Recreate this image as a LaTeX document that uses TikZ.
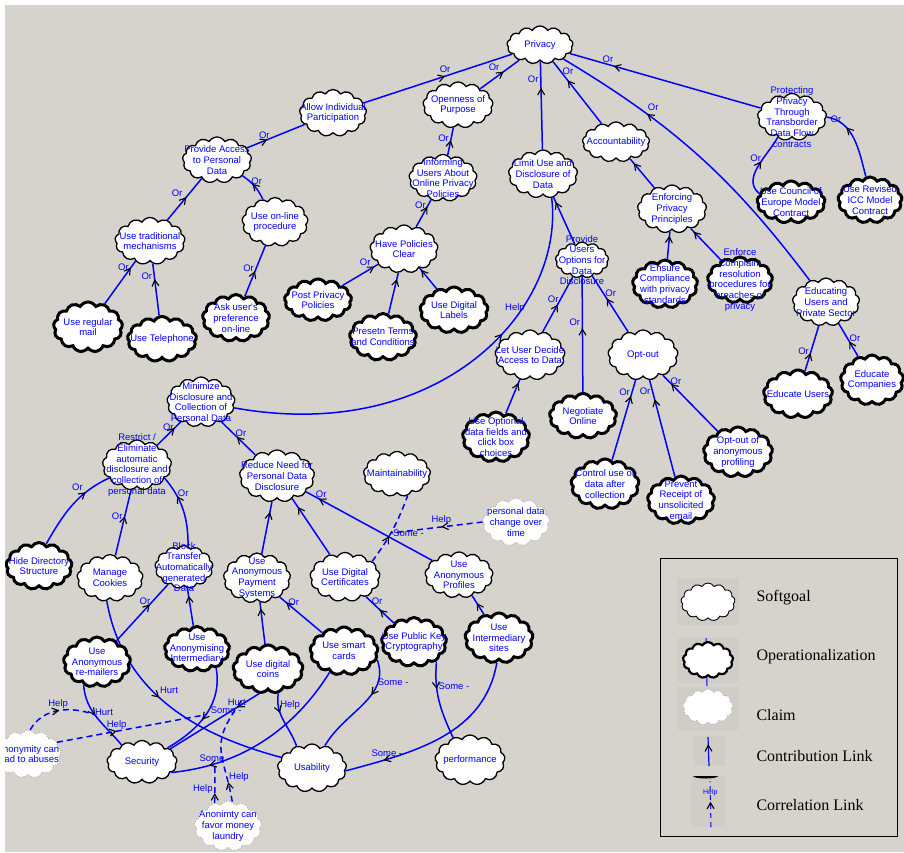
\documentclass[tikz,border=0pt]{standalone}
\usepackage{fontspec}
\setmainfont{Liberation Serif}
\newfontfamily\goalfont{Liberation Sans}
\usetikzlibrary{shapes.symbols, arrows.meta, decorations.markings}
\definecolor{panel}{RGB}{214,211,204}
\definecolor{iconbg}{RGB}{208,205,198}
\definecolor{linkblue}{RGB}{0,0,255}
\pgfdeclarelayer{bg}
\pgfdeclarelayer{links}
\pgfsetlayers{bg,links,main}

\begin{document}
\begin{tikzpicture}[x=1pt, y=1pt,
    soft/.style={cloud, cloud puffs=13, cloud puff arc=120, cloud ignores aspect,
                 draw=black, line width=1.3pt, fill=white,
                 minimum width=68pt, minimum height=47pt, inner sep=0pt},
    oper/.style={soft, line width=3pt},
    claim/.style={soft, draw=gray!60, line width=0.8pt, dash pattern=on 1.2pt off 1.2pt},
    txt/.style={font=\goalfont\fontsize{9.5}{10.7}\selectfont, text=linkblue, align=center, inner sep=0pt},
    lbl/.style={font=\goalfont\fontsize{9.5}{10.7}\selectfont, text=linkblue, inner sep=1.5pt},
    headat/.style={postaction={decorate}, decoration={markings, mark=at position #1 with
                 {\arrow{Straight Barb[color=black, length=6pt, width=7pt, line width=1.1pt]}}}},
    orlink/.style={draw=linkblue, line width=1.5pt, headat=#1},
    helplink/.style={orlink=#1, dash pattern=on 6pt off 4pt},
    keytext/.style={anchor=west, font=\fontsize{16}{18}\selectfont}
]
\useasboundingbox (0,0) rectangle (904,-852);
\begin{pgfonlayer}{bg}
  \fill[panel] (0,0) rectangle (904,-852);
\end{pgfonlayer}

% goals along the top
\node[soft, minimum width=66pt, minimum height=38pt, label={[txt]center:Privacy}] (privacy) at (540,-45) {};
\node[soft, minimum width=67pt, label={[txt]center:{Allow Individual\\Participation}}] (allow) at (333,-113) {};
\node[soft, minimum width=70pt, minimum height=46pt, label={[txt]center:{Openness of\\Purpose}}] (openness) at (458,-105) {};
\node[soft, label={[txt]center:{Informing\\Users About\\Online Privacy\\Policies}}] (informing) at (443,-178) {};
\node[soft, minimum width=69pt, minimum height=48pt, label={[txt]center:{Limit Use and\\Disclosure of\\Data}}] (limit) at (543,-174) {};
\node[soft, minimum width=67pt, minimum height=40pt, label={[txt]center:Accountability}] (account) at (616,-142) {};
\node[soft, minimum width=69pt, label={[txt]center:{Protecting\\Privacy\\Through\\Transborder\\Data Flow\\contracts}}] (protect) at (792,-117) {};
\node[soft, minimum width=69pt, minimum height=46pt, label={[txt]center:{Provide Access\\to Personal\\Data}}] (access) at (217,-160) {};
\node[soft, minimum width=70pt, label={[txt]center:{Use traditional\\mechanisms}}] (tradition) at (150,-241) {};
\node[soft, minimum width=66pt, minimum height=49pt, label={[txt]center:{Use on-line\\procedure}}] (online) at (275,-222) {};
\node[soft, minimum height=48pt, label={[txt]center:{Have Policies\\Clear}}] (policies) at (404,-249) {};
\node[soft, minimum width=69pt, minimum height=48pt, label={[txt]center:{Enforcing\\Privacy\\Principles}}] (enforcing) at (672,-209) {};
\node[oper, minimum height=42pt, label={[txt]center:{Use Council of\\Europe Model\\Contract}}] (council) at (791,-202) {};
\node[oper, minimum width=64pt, minimum height=46pt, label={[txt]center:{Use Revised\\ICC Model\\Contract}}] (icc) at (870,-200) {};

% middle band
\node[soft, minimum width=53pt, minimum height=36pt, label={[txt]center:{Provide\\Users\\Options for\\Data\\Disclosure}}] (options) at (582,-260) {};
\node[oper, minimum width=65pt, minimum height=48pt, label={[txt]center:{Ensure\\Compliance\\with privacy\\standards}}] (ensure) at (665,-284) {};
\node[oper, minimum width=65pt, minimum height=46pt, label={[txt]center:{Enforce\\Complaint\\resolution\\procedures for\\breaches of\\privacy}}] (complaint) at (740,-280) {};
\node[soft, minimum width=67pt, minimum height=48pt, label={[txt]center:{Educating\\Users and\\Private Sector}}] (educating) at (826,-302) {};
\node[oper, minimum width=69pt, minimum height=50pt, label={[txt]center:{Use regular\\mail}}] (mail) at (88,-327) {};
\node[oper, minimum width=69pt, minimum height=45pt, label={[txt]center:Use Telephone}] (phone) at (162,-339) {};
\node[oper, minimum width=67pt, label={[txt]center:{Ask user's\\preference\\on-line}}] (askuser) at (236,-318) {};
\node[oper, minimum width=67pt, minimum height=42pt, label={[txt]center:{Post Privacy\\Policies}}] (post) at (318,-300) {};
\node[oper, minimum width=67pt, label={[txt]center:{Presetn Terms\\and Conditions}}] (terms) at (383,-337) {};
\node[oper, minimum height=46pt, label={[txt]center:{Use Digital\\Labels}}] (labels) at (454,-310) {};
\node[soft, minimum width=70pt, minimum height=50pt, label={[txt]center:{Let User Decide\\Access to Data}}] (letuser) at (530,-355) {};
\node[oper, minimum width=67pt, minimum height=45pt, label={[txt]center:{Negotiate\\Online}}] (negotiate) at (583,-416) {};
\node[soft, minimum width=70pt, minimum height=50pt, label={[txt]center:Opt-out}] (optout) at (643,-355) {};
\node[oper, minimum width=67pt, minimum height=50pt, label={[txt]center:{Use Optional\\data fields and\\click box\\choices}}] (optional) at (496,-437) {};
\node[oper, minimum height=50pt, label={[txt]center:{Control use of\\data after\\collection}}] (control) at (605,-484) {};
\node[oper, minimum width=67pt, minimum height=48pt, label={[txt]center:{Prevent\\Receipt of\\unsolicited\\email}}] (prevent) at (681,-500) {};
\node[oper, minimum width=69pt, minimum height=50pt, label={[txt]center:{Opt-out of\\anonymous\\profiling}}] (profiling) at (738,-452) {};
\node[oper, minimum width=69pt, minimum height=48pt, label={[txt]center:Educate Users}] (eduusers) at (798,-394) {};
\node[oper, minimum width=63pt, minimum height=50pt, label={[txt]center:{Educate\\Companies}}] (educomp) at (872,-380) {};

% lower half
\node[soft, minimum height=50pt, label={[txt]center:{Minimize\\Disclosure and\\Collection of\\Personal Data}}] (minimize) at (201,-402) {};
\node[soft, minimum width=69pt, minimum height=50pt, label={[txt]center:{Restrict /\\Eliminate\\automatic\\disclosure and\\collection of\\personal data}}] (restrict) at (137,-465) {};
\node[soft, minimum width=75pt, minimum height=52pt, label={[txt]center:{Reduce Need for\\Personal Data\\Disclosure}}] (reduce) at (277,-476) {};
\node[soft, minimum width=67pt, minimum height=45pt, label={[txt]center:Maintainability}] (maintain) at (397,-474) {};
\node[claim, minimum width=67pt, minimum height=48pt, label={[txt]center:{personal data\\change over\\time}}] (pchange) at (516,-522) {};
\node[oper, minimum width=66pt, label={[txt]center:{Hide Directory\\Structure}}] (hidedir) at (39,-566) {};
\node[soft, minimum width=66pt, label={[txt]center:{Manage\\Cookies}}] (cookies) at (110,-578) {};
\node[soft, minimum width=58pt, minimum height=43pt, label={[txt]center:{Block\\Transfer\\Automatically\\generated\\Data}}] (block) at (184,-567) {};
\node[soft, minimum width=67pt, minimum height=50pt, label={[txt]center:{Use\\Anonymous\\Payment\\Systems}}] (payment) at (257,-578) {};
\node[soft, minimum width=70pt, minimum height=49pt, label={[txt]center:{Use Digital\\Certificates}}] (certs) at (345,-577) {};
\node[soft, minimum height=46pt, label={[txt]center:{Use\\Anonymous\\Profiles}}] (profiles) at (459,-575) {};
\node[oper, minimum width=67pt, minimum height=50pt, label={[txt]center:{Use\\Anonymous\\re-mailers}}] (remailers) at (97,-662) {};
\node[oper, minimum width=65pt, minimum height=45pt, label={[txt]center:{Use\\Anonymising\\Intermediary}}] (anonint) at (197,-649) {};
\node[oper, minimum width=70pt, minimum height=48pt, label={[txt]center:{Use digital\\coins}}] (coins) at (268,-669) {};
\node[oper, minimum height=48pt, label={[txt]center:{Use smart\\cards}}] (smart) at (344,-651) {};
\node[oper, minimum width=65pt, minimum height=49pt, label={[txt]center:{Use Public Key\\Cryptography}}] (pubkey) at (414,-642) {};
\node[oper, minimum height=50pt, label={[txt]center:{Use\\Intermediary\\sites}}] (intersites) at (499,-638) {};
\node[claim, minimum width=66pt, minimum height=48pt, label={[txt]center:{Anonymity can\\lead to abuses}}] (abuses) at (28,-754) {};
\node[soft, minimum width=70pt, minimum height=43pt, label={[txt]center:Security}] (security) at (142,-762) {};
\node[soft, minimum width=69pt, minimum height=48pt, label={[txt]center:Usability}] (usability) at (312,-768) {};
\node[soft, minimum width=70pt, minimum height=50pt, label={[txt]center:performance}] (perf) at (470,-760) {};
\node[claim, minimum width=67pt, minimum height=50pt, label={[txt]center:{Anonimty can\\favor money\\laundry}}] (laundry) at (228,-826) {};

\begin{pgfonlayer}{links}
% contributions towards Privacy
\draw[orlink=0.55] (allow) -- node[lbl, pos=0.55, above=1pt]{Or} (privacy);
\draw[orlink=0.6] (openness) -- node[lbl, pos=0.55, above left=0pt]{Or} (privacy);
\draw[orlink=0.7] (limit) -- node[lbl, pos=0.8, left]{Or} (privacy);
\draw[orlink=0.7] (account) -- node[lbl, pos=0.85, right]{Or} (privacy);
\draw[orlink=0.77] (protect) -- node[lbl, pos=0.8, above]{Or} (privacy);
\draw[orlink=0.7] (educating) to[bend right=11] node[lbl, pos=0.72, above right=0pt]{Or} (privacy);
\draw[orlink=0.35] (access) -- node[lbl, pos=0.3, above]{Or} (allow);
\draw[orlink=0.55] (informing) -- node[lbl, pos=0.6, left]{Or} (openness);
\draw[orlink=0.75] (policies) -- node[lbl, pos=0.8, left]{Or} (informing);
\draw[orlink=0.9] (options) -- (limit);
\draw[orlink=0.66] (minimize.-10) .. controls (440,-445) and (565,-310) .. (limit.-70) node[lbl, pos=0.64, above=4pt]{Help};
\draw[orlink=0.55] (tradition) -- node[lbl, pos=0.5, above left=0pt]{Or} (access);
\draw[orlink=0.6] (online) to[bend right=15] node[lbl, pos=0.75, right]{Or} (access);
\draw[orlink=0.85] (mail) -- node[lbl, pos=0.85, left]{Or} (tradition);
\draw[orlink=0.7] (phone) -- node[lbl, pos=0.75, left]{Or} (tradition);
\draw[orlink=0.5] (askuser) -- node[lbl, pos=0.55, left]{Or} (online);
\draw[orlink=0.9] (post) -- node[lbl, pos=0.85, above left=0pt]{Or} (policies);
\draw[orlink=0.85] (terms) -- (policies);
\draw[orlink=0.9] (labels) -- (policies);
\draw[orlink=0.5] (letuser) -- node[lbl, pos=0.6, left]{Or} (options);
\draw[orlink=0.55] (negotiate) -- node[lbl, pos=0.6, left]{Or} (options);
\draw[orlink=0.6] (optout) -- node[lbl, pos=0.7, right]{Or} (options);
\draw[orlink=0.9] (optional) -- (letuser);
\draw[orlink=0.8] (control) -- node[lbl, pos=0.85, left]{Or} (optout);
\draw[orlink=0.8] (prevent) -- node[lbl, pos=0.88, left]{Or} (optout);
\draw[orlink=0.85] (profiling) -- node[lbl, pos=0.9, right]{Or} (optout);
\draw[orlink=0.85] (enforcing) -- (account);
\draw[orlink=0.85] (ensure) -- (enforcing);
\draw[orlink=0.9] (complaint) -- (enforcing);
\draw[orlink=0.55] (council.165) to[out=140, in=240] node[lbl, pos=0.65, left]{Or} (protect.235);
\draw[orlink=0.7] (icc.100) to[out=105, in=-10] node[lbl, pos=0.75, above left=0pt]{Or} (protect.east);
\draw[orlink=0.4] (eduusers) -- node[lbl, pos=0.45, left]{Or} (educating);
\draw[orlink=0.45] (educomp) -- node[lbl, pos=0.55, right]{Or} (educating);
% lower tree
\draw[orlink=0.75] (restrict) -- node[lbl, pos=0.8, left]{Or} (minimize);
\draw[orlink=0.55] (reduce) -- node[lbl, pos=0.65, right]{Or} (minimize);
\draw[orlink=0.7] (hidedir.72) to[out=60, in=205] node[lbl, pos=0.7, above left=0pt]{Or} (restrict.205);
\draw[orlink=0.6] (cookies) -- node[lbl, pos=0.6, left]{Or} (restrict);
\draw[orlink=0.7] (block.79) to[out=90, in=-50] node[lbl, pos=0.75, right]{Or} (restrict.-25);
\draw[orlink=0.8] (payment) -- (reduce);
\draw[orlink=0.85] (certs) -- (reduce);
\draw[orlink=0.9] (profiles) -- node[lbl, pos=0.88, above]{Or} (reduce);
\draw[orlink=0.65] (remailers) -- node[lbl, pos=0.7, left]{Or} (block);
\draw[orlink=0.8] (anonint) -- (block);
\draw[orlink=0.85] (coins) -- (payment);
\draw[orlink=0.85] (smart) -- node[lbl, pos=0.85, right]{Or} (payment);
\draw[orlink=0.5] (pubkey) -- node[lbl, pos=0.6, above]{Or} (certs);
\draw[orlink=0.6] (intersites) -- (profiles);
% side effects and claims
\draw[helplink=0.4] (certs.30) to[bend right=8] coordinate[pos=0.45] (cm) node[lbl, pos=0.45, right]{Some -} (maintain.-64);
\draw[helplink=0.45] (pchange.west) -- node[lbl, pos=0.45, above]{Help} (cm);
\draw[orlink=0.45] (remailers.-120) to[out=-85, in=130] coordinate[pos=0.45] (hurta) node[lbl, pos=0.4, right]{Hurt} (security.140);
\draw[helplink=0.5] (abuses.85) to[out=60, in=160] node[lbl, pos=0.5, above]{Help} (hurta);
\draw[orlink=0.55] (anonint.-45) to[out=-80, in=30] coordinate[pos=0.5] (somea) node[lbl, pos=0.45, right]{Some -} (security.29);
\draw[helplink=0.4] (abuses.22) -- node[lbl, pos=0.4, above]{Help} (somea);
\draw[orlink=0.45] (cookies.-98) to[out=-80, in=165] node[lbl, pos=0.45, above right=0pt]{Hurt} (usability.161);
\draw[orlink=0.25] (coins.-110) -- coordinate[pos=0.25] (hurtb) node[lbl, pos=0.25, above]{Hurt} (security.25);
\draw[orlink=0.35] (coins.-67) to[out=-100, in=110] node[lbl, pos=0.2, right]{Help} (usability.125);
\draw[orlink=0.8] (smart.-124) .. controls (300,-720) and (250,-765) .. (security.-20) coordinate[pos=0.8] (someb) node[lbl, pos=0.8, above]{Some -};
\draw[helplink=0.25] (laundry.120) -- node[lbl, pos=0.35, left]{Help} (someb);
\draw[helplink=0.2] (laundry.80) to[out=100, in=-125, looseness=1.3] node[lbl, pos=0.2, right]{Help} (hurtb);
\draw[orlink=0.35] (smart.-15) to[out=-70, in=60] node[lbl, pos=0.3, above right=0pt]{Some -} (usability.60);
\draw[orlink=0.8] (intersites.-95) to[out=-100, in=15] node[lbl, pos=0.8, above]{Some -} (usability.-5);
\draw[orlink=0.35] (pubkey.-41) to[out=-95, in=115] node[lbl, pos=0.3, right]{Some -} (perf.127);
\end{pgfonlayer}

% key
\draw[line width=0.8pt] (660,-558) rectangle (897,-836);
\fill[iconbg] (677,-578) rectangle (739,-625);
\node[soft, minimum width=54pt, minimum height=38pt, line width=0.9pt] (keysoft) at (708,-602) {};
\node[keytext] (keysofttext) at (753,-598) {Softgoal};
\fill[iconbg] (677,-638) rectangle (739,-683);
\coordinate (keyopa) at (706,-638);
\coordinate (keyopb) at (707,-686);
\draw[linkblue, line width=1pt] (keyopa) -- (keyopb);
\node[oper, minimum width=50pt, minimum height=36pt, line width=2.2pt] (keyoper) at (708,-660) {};
\node[keytext] (keyopertext) at (753,-657) {Operationalization};
\fill[iconbg] (677,-687) rectangle (739,-730);
\node[claim, minimum width=50pt, minimum height=36pt] (keyclaim) at (708,-707) {};
\node[keytext] (keyclaimtext) at (753,-715) {Claim};
\fill[iconbg] (694,-736) rectangle (725,-766);
\coordinate (keyctba) at (709,-766);
\coordinate (keyctbb) at (708,-737);
\draw[orlink=0.75, line width=1.2pt] (keyctba) -- (keyctbb);
\node[keytext] (keyctbtext) at (753,-756) {Contribution Link};
\fill[iconbg] (691,-776) rectangle (726,-827);
\fill[black] (693,-776) -- (718,-776) arc[start angle=0, end angle=-180, x radius=12.5pt, y radius=2.5pt] -- cycle;
\coordinate (keycora) at (711,-827);
\coordinate (keycorb) at (710,-781);
\draw[helplink=0.55, line width=1pt, dash pattern=on 5pt off 4pt] (keycora) -- node[lbl, pos=0.75, font=\goalfont\fontsize{7}{8}\selectfont, inner sep=0pt]{Help} (keycorb);
\node[keytext] (keycortext) at (753,-805) {Correlation Link};

% white margin of the screenshot
\fill[white] (0,0) rectangle (904,-5);
\fill[white] (0,0) rectangle (5,-852);
\end{tikzpicture}
\end{document}
